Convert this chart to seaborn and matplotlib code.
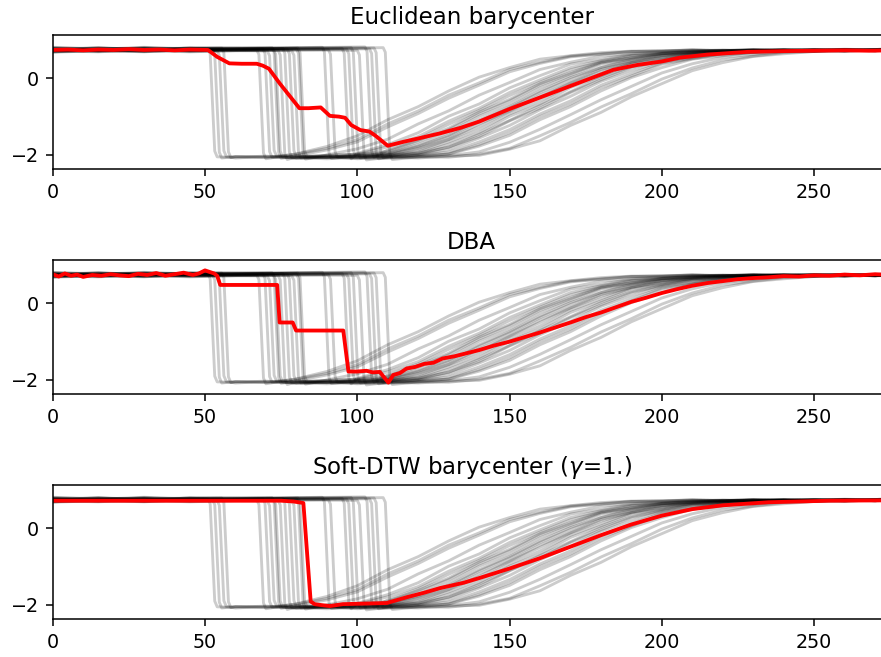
import numpy as np
import matplotlib
matplotlib.use("Agg")
import matplotlib.pyplot as plt
import seaborn as sns

N = np.nan

# ---------------- data ----------------
# gray series (Trace dataset, one class): drop times, levels, recovery values
drop_t = [51, 52.5, 54, 55.5, 67, 69, 70.5, 72, 72.5, 74, 75.5, 77, 78.5, 80, 80.5,
          88.5, 90.5, 95, 96.5, 98, 100, 102.5, 104, 105.5, 108.5]

top_t = [0, 15, 30, 45]
top_vals = [
    [0.72, 0.77, 0.74, 0.79], [0.78, 0.71, 0.76, 0.73], [0.69, 0.74, 0.70, 0.75],
    [0.80, 0.76, 0.81, 0.77], [0.75, 0.70, 0.73, 0.69], [0.71, 0.76, 0.79, 0.74],
    [0.77, 0.73, 0.70, 0.75], [0.74, 0.80, 0.75, 0.78], [0.68, 0.72, 0.77, 0.71],
    [0.76, 0.74, 0.71, 0.78], [0.73, 0.78, 0.76, 0.72], [0.79, 0.75, 0.78, 0.74],
    [0.70, 0.73, 0.69, 0.76], [0.75, 0.79, 0.74, 0.80], [0.72, 0.69, 0.75, 0.73],
    [0.77, 0.74, 0.79, 0.76], [0.74, 0.71, 0.73, 0.77], [0.81, 0.77, 0.74, 0.79],
    [0.71, 0.75, 0.72, 0.70], [0.76, 0.72, 0.77, 0.75], [0.73, 0.77, 0.71, 0.74],
    [0.78, 0.74, 0.80, 0.76], [0.69, 0.73, 0.76, 0.72], [0.75, 0.80, 0.73, 0.78],
    [0.72, 0.76, 0.78, 0.74]]
top_end = [0.76, 0.74, 0.72, 0.79, 0.74, 0.77, 0.71, 0.80, 0.75, 0.73, 0.78, 0.76, 0.72,
           0.77, 0.79, 0.81, 0.75, 0.78, 0.76, 0.80, 0.73, 0.82, 0.77, 0.79, 0.80]
bot_lvl = [-2.05, -2.08, -2.04, -2.07, -2.10, -2.06, -2.03, -2.09, -2.05, -2.12, -2.07,
           -2.04, -2.08, -2.11, -2.05, -2.09, -2.06, -2.10, -2.03, -2.08, -2.13, -2.06,
           -2.10, -2.07, -2.12]

rec_t = [60, 70, 80, 90, 100, 110, 120, 130, 140, 150, 160, 170, 180, 190, 200, 210,
         220, 230, 240, 250, 260, 270, 275]
recovery = [
    [-2.06, -2.03, -2.07, -2.01, -1.98, -1.9, -1.62, -1.3, -0.88, -0.55, -0.14, 0.15, 0.42, 0.54, 0.65, 0.68, 0.73, 0.72, 0.75, 0.73, 0.76, 0.74, 0.75],
    [-2.04, -2.06, -1.98, -1.83, -1.6, -1.19, -0.85, -0.44, -0.12, 0.23, 0.42, 0.58, 0.64, 0.7, 0.71, 0.74, 0.72, 0.75, 0.73, 0.74, 0.72, 0.75, 0.73],
    [-2.08, -2.04, -2.07, -2.03, -2.06, -2.0, -1.96, -1.72, -1.42, -0.99, -0.67, -0.24, 0.06, 0.37, 0.5, 0.63, 0.67, 0.72, 0.71, 0.74, 0.72, 0.75, 0.77],
    [-2.04, -2.07, -2.03, -2.06, -2.01, -1.97, -1.77, -1.49, -1.08, -0.74, -0.33, 0.02, 0.28, 0.5, 0.59, 0.68, 0.7, 0.74, 0.72, 0.73, 0.75, 0.72, 0.74],
    [N, N, -1.97, -1.78, -1.5, -1.08, -0.74, -0.33, 0.03, 0.28, 0.5, 0.59, 0.67, 0.71, 0.72, 0.74, 0.72, 0.75, 0.73, 0.71, 0.74, 0.73, 0.76],
    [N, N, -2.08, -2.04, -2.07, -2.02, -1.99, -1.79, -1.52, -1.11, -0.78, -0.37, -0.04, 0.28, 0.46, 0.6, 0.65, 0.71, 0.72, 0.75, 0.72, 0.74, 0.72],
    [N, N, -2.03, -2.06, -1.99, -1.93, -1.66, -1.34, -0.93, -0.59, -0.18, 0.12, 0.4, 0.53, 0.64, 0.68, 0.72, 0.73, 0.71, 0.74, 0.72, 0.75, 0.78],
    [N, N, -2.02, -1.87, -1.66, -1.27, -0.92, -0.52, -0.18, 0.17, 0.39, 0.56, 0.63, 0.7, 0.71, 0.74, 0.72, 0.73, 0.75, 0.72, 0.74, 0.73, 0.71],
    [N, N, -2.09, -2.05, -2.08, -2.04, -2.05, -1.97, -1.73, -1.42, -1.0, -0.67, -0.25, 0.06, 0.37, 0.51, 0.63, 0.67, 0.72, 0.71, 0.74, 0.72, 0.75],
    [N, N, -2.05, -2.07, -2.03, -2.0, -1.83, -1.59, -1.19, -0.85, -0.44, -0.11, 0.23, 0.42, 0.58, 0.64, 0.7, 0.71, 0.74, 0.72, 0.75, 0.73, 0.74],
    [N, N, N, -2.1, -2.07, -2.09, -2.05, -2.06, -1.98, -1.83, -1.5, -1.15, -0.75, -0.4, -0.02, 0.27, 0.48, 0.58, 0.67, 0.7, 0.73, 0.72, 0.74],
    [N, N, N, -2.01, -1.98, -1.79, -1.52, -1.12, -0.78, -0.37, -0.04, 0.28, 0.46, 0.6, 0.65, 0.71, 0.72, 0.74, 0.72, 0.75, 0.73, 0.74, 0.77],
    [N, N, N, -2.06, -2.03, -2.0, -1.92, -1.66, -1.34, -0.93, -0.59, -0.18, 0.12, 0.4, 0.53, 0.64, 0.68, 0.72, 0.73, 0.71, 0.74, 0.73, 0.72],
    [N, N, N, -2.0, -1.84, -1.59, -1.19, -0.85, -0.44, -0.11, 0.23, 0.42, 0.58, 0.64, 0.7, 0.72, 0.74, 0.72, 0.75, 0.73, 0.71, 0.74, 0.75],
    [N, N, N, -2.07, -2.04, -2.06, -2.0, -1.86, -1.56, -1.23, -0.82, -0.47, -0.08, 0.2, 0.44, 0.56, 0.66, 0.69, 0.73, 0.72, 0.74, 0.72, 0.76],
    [N, N, N, N, -2.02, -1.96, -1.73, -1.42, -0.99, -0.67, -0.25, 0.07, 0.37, 0.5, 0.63, 0.67, 0.72, 0.71, 0.74, 0.73, 0.75, 0.72, 0.73],
    [N, N, N, N, -2.1, -2.06, -2.08, -2.03, -2.01, -1.85, -1.63, -1.23, -0.89, -0.48, -0.14, 0.2, 0.41, 0.57, 0.64, 0.7, 0.71, 0.74, 0.72],
    [N, N, N, N, -1.96, -1.73, -1.42, -0.99, -0.67, -0.25, 0.07, 0.37, 0.5, 0.63, 0.67, 0.72, 0.71, 0.74, 0.72, 0.75, 0.73, 0.74, 0.77],
    [N, N, N, N, N, -2.04, -1.95, -1.8, -1.46, -1.1, -0.71, -0.35, 0.02, 0.3, 0.48, 0.61, 0.66, 0.71, 0.72, 0.74, 0.72, 0.75, 0.74],
    [N, N, N, N, N, -1.99, -1.8, -1.52, -1.12, -0.77, -0.37, -0.03, 0.28, 0.46, 0.6, 0.66, 0.71, 0.72, 0.74, 0.73, 0.75, 0.72, 0.75],
    [N, N, N, N, N, -2.06, -2.0, -1.93, -1.66, -1.34, -0.93, -0.59, -0.18, 0.12, 0.4, 0.53, 0.64, 0.68, 0.72, 0.73, 0.71, 0.74, 0.73],
    [N, N, N, N, N, -1.87, -1.58, -1.2, -0.84, -0.45, -0.1, 0.22, 0.43, 0.58, 0.64, 0.7, 0.72, 0.74, 0.72, 0.75, 0.73, 0.74, 0.76],
    [N, N, N, N, N, -2.07, -2.02, -1.98, -1.77, -1.49, -1.08, -0.74, -0.33, 0.02, 0.28, 0.5, 0.59, 0.68, 0.7, 0.73, 0.72, 0.74, 0.75],
    [N, N, N, N, N, N, -1.88, -1.6, -1.26, -0.86, -0.5, -0.12, 0.19, 0.42, 0.55, 0.65, 0.69, 0.72, 0.74, 0.72, 0.75, 0.73, 0.74],
    [N, N, N, N, N, N, -2.05, -2.02, -1.92, -1.67, -1.33, -0.95, -0.56, -0.21, 0.14, 0.38, 0.55, 0.63, 0.69, 0.71, 0.74, 0.72, 0.73],
]

# barycenters (red)
eu_x = [0, 5, 10, 15, 20, 25, 30, 35, 40, 45, 51, 54, 58, 62, 67, 69, 71, 74.5, 78, 81, 84, 88,
        91, 94, 96, 98, 101, 104, 106, 110, 115, 120, 127, 134, 140, 150, 162, 172, 184, 192,
        200, 206, 215, 228, 240, 250, 260, 268, 275]
eu_y = [0.74, 0.75, 0.73, 0.75, 0.74, 0.76, 0.74, 0.75, 0.73, 0.75, 0.74, 0.56, 0.39, 0.38, 0.38,
        0.33, 0.25, -0.13, -0.48, -0.78, -0.78, -0.76, -0.98, -1.0, -1.03, -1.22, -1.35, -1.39,
        -1.5, -1.76, -1.66, -1.57, -1.44, -1.29, -1.13, -0.8, -0.44, -0.14, 0.22, 0.35, 0.44,
        0.54, 0.62, 0.69, 0.71, 0.72, 0.73, 0.72, 0.73]

dba_x = [0, 2, 4, 6, 8, 10, 13, 16, 19, 22, 25, 28, 31, 34, 37, 40, 43, 46, 48, 50, 51.5, 53, 54,
         55, 73.7, 74.5, 78.8, 79.9, 95.4, 97.1, 100, 103, 105, 107.4, 110.2, 111.8, 114, 116.2,
         119, 122, 125, 128, 132, 136, 140, 145, 150, 155, 160, 165, 170, 175, 180, 185, 190,
         195, 200, 205, 210, 215, 220, 225, 230, 235, 240, 245, 250, 255, 260, 265, 270, 275]
dba_y = [0.76, 0.70, 0.78, 0.72, 0.75, 0.69, 0.74, 0.72, 0.76, 0.73, 0.71, 0.77, 0.74, 0.79, 0.72,
         0.76, 0.80, 0.74, 0.78, 0.86, 0.82, 0.78, 0.72, 0.48, 0.48, -0.5, -0.5, -0.71, -0.71,
         -1.78, -1.78, -1.76, -1.80, -1.79, -2.07, -1.87, -1.82, -1.70, -1.66, -1.58, -1.55,
         -1.44, -1.38, -1.30, -1.22, -1.10, -1.0, -0.88, -0.76, -0.63, -0.50, -0.36, -0.24, -0.10,
         0.04, 0.15, 0.27, 0.37, 0.46, 0.53, 0.58, 0.63, 0.66, 0.68, 0.71, 0.70, 0.73, 0.72, 0.75,
         0.73, 0.76, 0.74]

sd_x = [0, 20, 40, 60, 75, 79, 82.3, 84.7, 86, 87.8, 91, 95.3, 100, 105, 109.7, 116.2, 122, 127.2,
        135, 140, 150, 160, 170, 180, 190, 200, 210, 220, 235, 255, 275]
sd_y = [0.72, 0.72, 0.72, 0.72, 0.72, 0.70, 0.66, -1.91, -1.98, -2.0, -2.03, -1.98, -1.97, -1.96,
        -1.95, -1.8, -1.68, -1.56, -1.42, -1.3, -1.05, -0.78, -0.48, -0.18, 0.1, 0.33, 0.5, 0.6,
        0.68, 0.72, 0.73]

titles = ["Euclidean barycenter", "DBA", r"Soft-DTW barycenter ($\gamma$=1.)"]
x_ticks = [0, 50, 100, 150, 200, 250]
y_ticks = [-2, 0]

assert all(len(r) == len(rec_t) for r in recovery)
assert len(eu_x) == len(eu_y) and len(dba_x) == len(dba_y) and len(sd_x) == len(sd_y)

# ---------------- drawing ----------------
S = 1.375
plt.rcParams.update({
    "font.family": ["DejaVu Sans"],
    "font.size": 10 * S,
    "axes.titlesize": 12 * S,
    "axes.linewidth": 0.8 * S,
    "xtick.major.size": 3.5 * S,
    "ytick.major.size": 3.5 * S,
    "xtick.major.width": 0.8 * S,
    "ytick.major.width": 0.8 * S,
    "xtick.major.pad": 3.5 * S,
    "ytick.major.pad": 3.5 * S,
    "axes.titlepad": 6 * S,
})

fig = plt.figure(figsize=(8.81, 6.57), dpi=100)
left, width, height = 0.0598, 0.9508, 0.2044
bottoms = [0.7423, 0.3998, 0.0574]
reds = [(eu_x, eu_y), (dba_x, dba_y), (sd_x, sd_y)]

drop_dx = [0.0, 0.7, 2.2, 3.0]

for k in range(3):
    ax = fig.add_axes([left, bottoms[k], width, height])
    for i in range(len(drop_t)):
        d = drop_t[i]
        xs = list(top_t) + [d + dx for dx in drop_dx]
        ys = list(top_vals[i]) + [top_end[i], top_end[i] - 0.12, bot_lvl[i] + 0.15, bot_lvl[i]]
        for t, v in zip(rec_t, recovery[i]):
            if not np.isnan(v):
                xs.append(t)
                ys.append(v)
        sns.lineplot(x=xs, y=ys, ax=ax, color="k", alpha=0.2, linewidth=1.5 * S,
                     sort=False, estimator=None)
    rx, ry = reds[k]
    sns.lineplot(x=rx, y=ry, ax=ax, color="r", linewidth=2 * S, sort=False, estimator=None)
    ax.set_xlim(0, 275)
    ax.set_ylim(-2.375, 1.13)
    ax.set_xticks(x_ticks)
    ax.set_yticks(y_ticks)
    ax.set_xlabel("")
    ax.set_ylabel("")
    ax.set_title(titles[k])

fig.savefig("out.png", dpi=100)
